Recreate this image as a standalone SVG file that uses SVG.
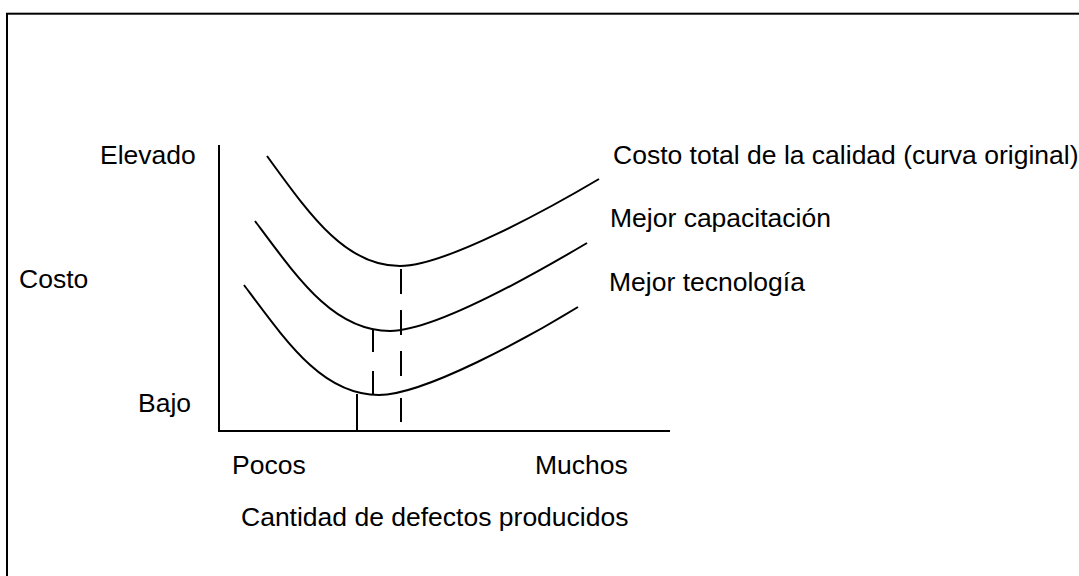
<svg xmlns="http://www.w3.org/2000/svg" width="1079" height="576" viewBox="0 0 1079 576">
<style>
.t{font-family:"Liberation Sans",Arial,sans-serif;font-size:26.5px;fill:#000}
.ln{fill:none;stroke:#000;stroke-width:2}
.d{fill:none;stroke:#000;stroke-width:2}
</style>
<rect x="0" y="0" width="1079" height="576" fill="#fff"/>
<g id="frame"><rect x="7" y="13.7" width="1090" height="580" class="ln"/></g>
<g id="axes">
<path class="ln" d="M219,145 V431 H670"/>
</g>
<g id="curve-original"><path class="ln" d="M267,156 C310,215 345,266 400,266 C445,266 550,208 599,179"/></g>
<g id="curve-capacitacion"><path class="ln" d="M255,221 C299,280 334,331 390,331 C436,331 538,272 587,243"/></g>
<g id="curve-tecnologia"><path class="ln" d="M244,285 C288,344 323,395 379,395 C424,395 529,337 578,307"/></g>
<g id="connectors">
<path class="d" d="M401,269V294 M401,310V335 M401,351V376 M401,398V422"/>
<path class="d" d="M373,329V352 M373,371V394"/>
<path class="d" d="M357,394V431"/>
</g>
<g id="labels">
<text class="t" x="100" y="164">Elevado</text>
<text class="t" x="19" y="288">Costo</text>
<text class="t" x="138" y="412">Bajo</text>
<text class="t" x="232" y="474">Pocos</text>
<text class="t" x="535" y="474">Muchos</text>
<text class="t" x="241" y="526">Cantidad de defectos producidos</text>
<text class="t" x="613" y="164">Costo total de la calidad (curva original)</text>
<text class="t" x="610" y="227">Mejor capacitación</text>
<text class="t" x="609" y="291">Mejor tecnología</text>
</g>
</svg>
